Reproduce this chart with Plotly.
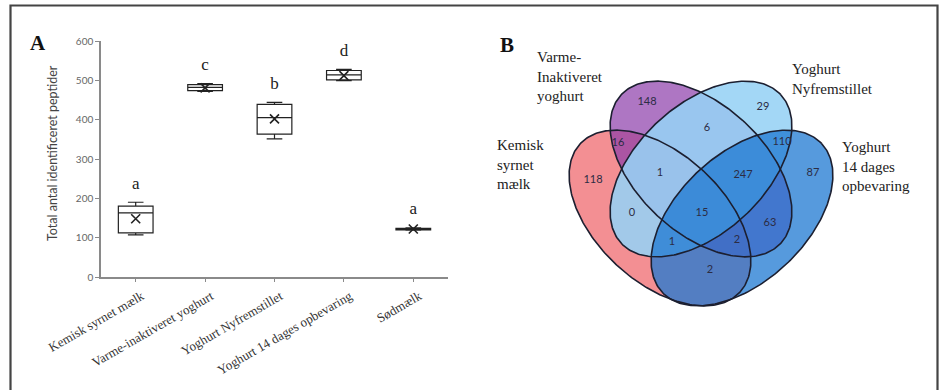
import numpy as np
import plotly.graph_objects as go

# ---------------- data ----------------
categories = ["Kemisk syrnet mælk", "Varme-inaktiveret yoghurt", "Yoghurt Nyfremstillet",
              "Yoghurt 14 dages opbevaring", "Sødmælk"]
box_min = [107, 472, 351, 499, 119]
box_q1 = [112, 474, 363, 501, 120]
box_median = [163, 482, 405, 514, 122]
box_q3 = [180, 489, 439, 525, 124]
box_max = [190, 492, 444, 528, 125]
box_mean = [148, 481, 402, 512, 122]
sig_letters = ["a", "c", "b", "d", "a"]
y_ticks = [0, 100, 200, 300, 400, 500, 600]

venn_set_labels = ["Kemisk<br>syrnet<br>mælk", "Varme-<br>Inaktiveret<br>yoghurt",
                   "Yoghurt<br>Nyfremstillet", "Yoghurt<br>14 dages<br>opbevaring"]
venn_regions = ["K", "V", "N", "Y", "KV", "VN", "NY", "KN", "KVN", "VNY", "VY", "KVNY", "KNY", "KVY", "KY"]
venn_counts = [118, 148, 29, 87, 16, 6, 110, 0, 1, 247, 63, 15, 1, 2, 2]

# ---------------- layout constants (pixels) ----------------
W, H = 944, 390
ax_x0, ax_x1 = 101, 448
ax_ytop, ax_ybot = 41, 277

# Venn geometry (pixel space, y down)
ell_a, ell_b = 109, 64
ellipses = [  # cx, cy, angle(deg), fill
    (660, 218, 43, "rgba(240,115,120,0.80)"),   # Kemisk
    (701, 169, 43, "rgba(140,60,170,0.70)"),    # Varme
    (701, 169, -43, "rgba(150,210,245,0.88)"),  # Nyfremstillet
    (742, 218, -43, "rgba(30,120,210,0.75)"),   # 14 dage
]
region_pos = {
    "K": (593, 180), "V": (647, 102), "N": (763, 107), "Y": (813, 173),
    "KV": (618, 143), "VN": (707, 128), "NY": (782, 142), "KN": (632, 213),
    "KVN": (660, 173), "VNY": (743, 175), "VY": (770, 223), "KVNY": (702, 213),
    "KNY": (672, 242), "KVY": (737, 240), "KY": (710, 270),
}
set_label_pos = [(495, 164), (535, 76), (790, 79), (840, 166)]

fig = go.Figure()

# ---------------- Panel A ----------------
fig.add_trace(go.Box(
    x=categories, q1=box_q1, median=box_median, q3=box_q3,
    lowerfence=box_min, upperfence=box_max, mean=box_mean, boxmean=False,
    boxpoints=False, width=0.5, whiskerwidth=0.45,
    fillcolor="white", line=dict(color="#222", width=1.2),
    xaxis="x", yaxis="y", showlegend=False, hoverinfo="skip"))
fig.add_trace(go.Scatter(
    x=categories, y=box_mean, mode="markers",
    marker=dict(symbol="x-thin", size=9, line=dict(width=1.6, color="#222")),
    xaxis="x", yaxis="y", showlegend=False, hoverinfo="skip"))
fig.add_trace(go.Scatter(
    x=categories, y=[v + 45 for v in box_max], mode="text", text=sig_letters,
    textfont=dict(family="Liberation Serif", size=17, color="#222"),
    xaxis="x", yaxis="y", showlegend=False, hoverinfo="skip"))

# ---------------- Panel B ----------------
t = np.linspace(0, 2 * np.pi, 300)
for cx, cy, ang, col in ellipses:
    r = np.deg2rad(ang)
    xs = cx + ell_a * np.cos(t) * np.cos(r) - ell_b * np.sin(t) * np.sin(r)
    ys = cy + ell_a * np.cos(t) * np.sin(r) + ell_b * np.sin(t) * np.cos(r)
    fig.add_trace(go.Scatter(x=xs, y=ys, mode="lines", fill="toself", fillcolor=col,
                             line=dict(width=0), xaxis="x2", yaxis="y2",
                             showlegend=False, hoverinfo="skip"))
for cx, cy, ang, col in ellipses:
    r = np.deg2rad(ang)
    xs = cx + ell_a * np.cos(t) * np.cos(r) - ell_b * np.sin(t) * np.sin(r)
    ys = cy + ell_a * np.cos(t) * np.sin(r) + ell_b * np.sin(t) * np.cos(r)
    fig.add_trace(go.Scatter(x=xs, y=ys, mode="lines",
                             line=dict(width=1.6, color="#1c1f30"), xaxis="x2", yaxis="y2",
                             showlegend=False, hoverinfo="skip"))
fig.add_trace(go.Scatter(
    x=[region_pos[r][0] for r in venn_regions], y=[region_pos[r][1] for r in venn_regions],
    mode="text", text=[str(c) for c in venn_counts],
    textfont=dict(family="Lato", size=11, color="#2c2c44"),
    xaxis="x2", yaxis="y2", showlegend=False, hoverinfo="skip"))

annotations = []
for lab, (lx, ly) in zip(venn_set_labels, set_label_pos):
    annotations.append(dict(x=lx, y=ly, xref="x2", yref="y2", text=lab, showarrow=False,
                            xanchor="left", yanchor="middle", align="left",
                            font=dict(family="Liberation Serif", size=15, color="#222")))
annotations.append(dict(x=38, y=43, xref="x2", yref="y2", text="<b>A</b>", showarrow=False,
                        font=dict(family="Liberation Serif", size=21, color="#111")))
annotations.append(dict(x=507, y=45, xref="x2", yref="y2", text="<b>B</b>", showarrow=False,
                        font=dict(family="Liberation Serif", size=21, color="#111")))
annotations.append(dict(x=52, y=153, xref="x2", yref="y2", text="Total antal identificeret peptider",
                        textangle=-90, showarrow=False,
                        font=dict(family="Lato", size=12.5, color="#444")))

fig.update_layout(
    width=W, height=H, margin=dict(l=0, r=0, t=0, b=0, pad=0, autoexpand=False),
    paper_bgcolor="white", plot_bgcolor="rgba(0,0,0,0)",
    xaxis=dict(domain=[ax_x0 / W, ax_x1 / W], anchor="y", type="category", automargin=False,
               categoryorder="array", categoryarray=categories, range=[-0.5, 4.5],
               showline=True, linecolor="#8a8a8a", linewidth=1.5, ticks="outside",
               ticklen=3, tickcolor="#8a8a8a", tickangle=-30, showgrid=False, zeroline=False,
               ticklabelshift=6, ticklabelstandoff=2,
               tickfont=dict(family="Liberation Serif", size=13, color="#333")),
    yaxis=dict(domain=[(H - ax_ybot) / H, (H - ax_ytop) / H], anchor="x", range=[0, 600],
               automargin=False,
               tickvals=y_ticks, showline=True, linecolor="#8a8a8a", linewidth=1.5,
               ticks="outside", ticklen=4, tickcolor="#8a8a8a", showgrid=False, zeroline=False,
               tickfont=dict(family="Lato", size=10, color="#666")),
    xaxis2=dict(domain=[0, 1], anchor="y2", range=[0, W], visible=False, automargin=False),
    yaxis2=dict(domain=[0, 1], anchor="x2", range=[H, 0], visible=False, automargin=False),
    annotations=annotations,
    shapes=[dict(type="rect", xref="paper", yref="paper", x0=10.5 / W, x1=937.5 / W,
                 y0=-0.05, y1=(H - 5.5) / H, line=dict(color="#444", width=2.2))],
)

fig.write_html("out.html", config={"displayModeBar": False},
               post_script="document.body.style.margin='0';document.body.style.overflow='hidden';")
